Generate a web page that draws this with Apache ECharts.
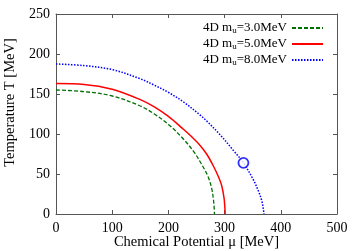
<!DOCTYPE html>
<html><head><meta charset="utf-8">
<script src="https://cdn.jsdelivr.net/npm/echarts@6/dist/echarts.min.js"></script>
<style>html,body{margin:0;padding:0;background:#fff}#c{width:358px;height:251px}</style>
</head><body><div id="c"></div>
<script>
var xTicks = [0, 100, 200, 300, 400, 500];
var yTicks = [0, 50, 100, 150, 200, 250];
var green = [[0,155],[50,153],[100,147.5],[150,135],[175,125],[200,112],[225,95],[245,78],[260,61],[271,46],[277,32],[280,19],[281.5,7],[282,0]];
var red = [[0,163],[50,162],[100,156],[150,143],[175,134],[200,122],[225,107],[240,97.5],[256,86],[268,75],[280,60],[290,45],[295,35],[299,20],[300.5,8],[301,0]];
var blue = [[0,187.5],[50,185.5],[100,180.5],[150,169],[175,161],[200,152],[225,141],[256,124],[270,115],[292,99],[315,80],[333.5,64],[351,43],[360,29],[366,17],[369,6],[370,0]];
var point = [[333.5,64]];
var names = ['3.0', '5.0', '8.0'];

var font = 'Liberation Serif, Times New Roman, serif';
var axisCol = '#555';
function axisX(pos, labels){
  return {type:'value', position:pos, min:0, max:500, interval:100,
    axisLine:{show:true, onZero:false, lineStyle:{color:axisCol, width:1}},
    axisTick:{show:true, inside:true, length:4, lineStyle:{color:axisCol}},
    axisLabel:{show:labels, color:'#000', fontFamily:font, fontSize:14, margin:7},
    splitLine:{show:false},
    name: labels ? 'Chemical Potential \u03bc [MeV]' : '', nameLocation:'middle', nameGap:21, nameMoveOverlap:false,
    nameTextStyle:{color:'#000', fontFamily:font, fontSize:14.5}};
}
function axisY(pos, labels){
  return {type:'value', position:pos, min:0, max:250, interval:50,
    axisLine:{show:true, onZero:false, lineStyle:{color:axisCol, width:1}},
    axisTick:{show:true, inside:true, length:4, lineStyle:{color:axisCol}},
    axisLabel:{show:labels, color:'#000', fontFamily:font, fontSize:14, margin:6},
    splitLine:{show:false},
    name: labels ? 'Temperature T [MeV]' : '', nameLocation:'middle', nameGap:38,
    nameTextStyle:{color:'#000', fontFamily:font, fontSize:14.5, padding:[0,0,0,23]}};
}
function lineSeries(n, data, color, type, width){
  return {name:n, type:'line', data:data, smooth:0.35, symbol:'none', xAxisIndex:0, yAxisIndex:0,
    lineStyle:{color:color, type:type, width:width}, itemStyle:{color:color}};
}
var chart = echarts.init(document.getElementById('c'), null, {renderer:'canvas'});
chart.setOption({
  animation:false,
  grid:{left:56, right:21, top:14, bottom:37, outerBoundsMode:'none', containLabel:false},
  xAxis:[axisX('bottom', true), axisX('top', false)],
  yAxis:[axisY('left', true), axisY('right', false)],
  legend:{orient:'vertical', right:34, top:20, align:'right', itemWidth:31, itemHeight:10, itemGap:1, padding:0,
    data:names, itemStyle:{opacity:0},
    formatter:function(n){return '{a|4D m}{s|u}{a|=' + n + 'MeV}';},
    textStyle:{color:'#000', fontFamily:font, fontSize:13,
      rich:{a:{fontFamily:font, fontSize:13, lineHeight:14, verticalAlign:'top', color:'#000'},
            s:{fontFamily:font, fontSize:9, lineHeight:10, verticalAlign:'bottom', padding:[6,0,0,0], color:'#000'}}}},
  series:[
    lineSeries(names[0], green, '#007000', [4,2], 1.3),
    lineSeries(names[1], red, '#ff0000', 'solid', 1.5),
    lineSeries(names[2], blue, '#0000ff', [1.5,1.5], 1.5),
    {type:'scatter', data:point, symbol:'circle', symbolSize:10, xAxisIndex:0, yAxisIndex:0,
     itemStyle:{color:'#fff', borderColor:'#0000ff', borderWidth:1.8}, z:5}
  ]
});
</script></body></html>
